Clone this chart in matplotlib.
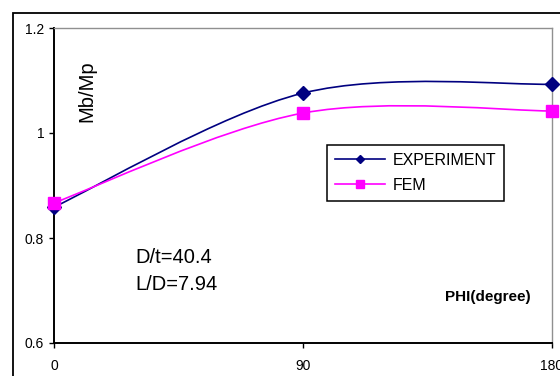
import numpy as np
import matplotlib
matplotlib.use("Agg")
import matplotlib.pyplot as plt
from matplotlib.path import Path
from matplotlib.patches import PathPatch, Rectangle
from matplotlib.lines import Line2D

plt.rcParams['font.family'] = ['Liberation Sans', 'DejaVu Sans']

phi = [0, 90, 180]
experiment = [0.859, 1.076, 1.093]
fem = [0.867, 1.038, 1.042]
series_names = ['EXPERIMENT', 'FEM']
xticks = [0, 90, 180]
yticks = [0.6, 0.8, 1.0, 1.2]
ytick_labels = ['0.6', '0.8', '1', '1.2']


def smooth_path(x, y):
    # spreadsheet-style smoothed line: cubic Bezier through every point
    pts = np.column_stack([x, y]).astype(float)
    n = len(pts)
    verts = [pts[0]]
    codes = [Path.MOVETO]
    for i in range(n - 1):
        p0 = pts[max(i - 1, 0)]
        p1 = pts[i]
        p2 = pts[i + 1]
        p3 = pts[min(i + 2, n - 1)]
        c1 = p1 + (p2 - p0) / 6.0
        c2 = p2 - (p3 - p1) / 6.0
        verts += [c1, c2, p2]
        codes += [Path.CURVE4] * 3
    return Path(verts, codes)


fig = plt.figure(figsize=(5.6, 3.76), dpi=100)
W, H = 560, 376
ax = fig.add_axes([54 / W, 1 - 343 / H, (552 - 54) / W, (343 - 28) / H])

# outer chart frame (runs past the right and bottom edges)
fig.patches.append(Rectangle((13 / W, -0.2), 1.2, 1.2 - 13 / H,
                             transform=fig.transFigure, fill=False,
                             edgecolor='black', linewidth=1.3, zorder=0))

colors = ['#000080', '#ff00ff']
markers = ['D', 's']
sizes = [7.2, 8.5]
for vals, c, m, ms in zip([experiment, fem], colors, markers, sizes):
    ax.add_patch(PathPatch(smooth_path(phi, vals), facecolor='none',
                           edgecolor=c, linewidth=1.2, zorder=3))
    ax.plot(phi, vals, linestyle='none', marker=m, markersize=ms,
            color=c, zorder=4, clip_on=False)

ax.set_xlim(0, 180)
ax.set_ylim(0.6, 1.2)
ax.set_xticks(xticks)
ax.set_xticklabels([str(t) for t in xticks])
ax.set_yticks(yticks)
ax.set_yticklabels(ytick_labels)
ax.tick_params(axis='both', direction='out', length=3.6, width=1,
               labelsize=10, color='black')
ax.tick_params(axis='x', pad=8)
ax.tick_params(axis='y', pad=3.5)

for side in ['left', 'bottom']:
    ax.spines[side].set_linewidth(1.4)
    ax.spines[side].set_color('black')
for side in ['top', 'right']:
    ax.spines[side].set_linewidth(1.0)
    ax.spines[side].set_color('#909090')

ax.text(0.066, 0.80, 'Mb/Mp', transform=ax.transAxes, rotation=90,
        ha='center', va='center', fontsize=14.5)
ax.text(0.163, 0.27, 'D/t=40.4', transform=ax.transAxes,
        ha='left', va='center', fontsize=14.5)
ax.text(0.163, 0.185, 'L/D=7.94', transform=ax.transAxes,
        ha='left', va='center', fontsize=14.5)
ax.text(0.872, 0.146, 'PHI(degree)', transform=ax.transAxes,
        ha='center', va='center', fontsize=11, fontweight='bold')

handles = [Line2D([], [], color=c, marker=m, markersize=s, linewidth=1.2)
           for c, m, s in zip(colors, markers, [4.5, 5.5])]
leg = ax.legend(handles, series_names, loc='upper left',
                bbox_to_anchor=((327 - 54) / 498, (343 - 145) / 315),
                frameon=True, fancybox=False, framealpha=1,
                edgecolor='black', fontsize=11.5, handlelength=3.1,
                handletextpad=0.5, borderpad=0.5, labelspacing=0.6,
                borderaxespad=0)
leg.get_frame().set_linewidth(1.1)

fig.savefig('out.png', dpi=100)
